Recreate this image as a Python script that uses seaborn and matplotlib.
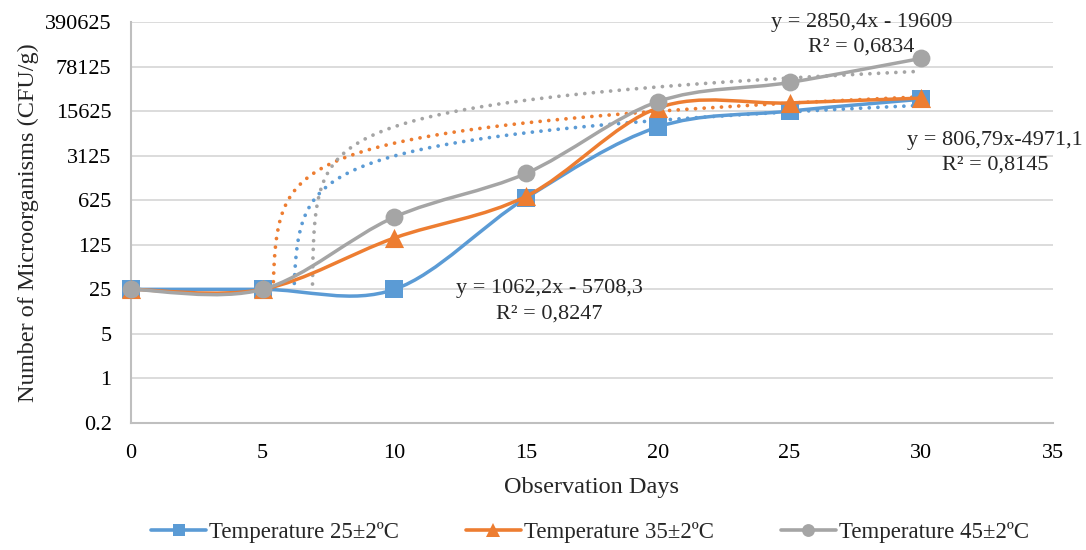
import numpy as np
import pandas as pd
import matplotlib
matplotlib.use("Agg")
import matplotlib.pyplot as plt
from matplotlib.path import Path
from matplotlib.patches import PathPatch
from matplotlib.lines import Line2D
from matplotlib.ticker import NullLocator, FixedLocator, FixedFormatter
import seaborn as sns

# ---------------- data ----------------
days = [0, 5, 10, 15, 20, 25, 30]
temp25 = [25, 25, 25, 680, 8800, 15625, 24000]
temp35 = [25, 25, 160, 720, 17500, 21000, 25000]
temp45 = [25, 25, 340, 1650, 22000, 44000, 105000]
series_names = ["Temperature 25±2ºC", "Temperature 35±2ºC", "Temperature 45±2ºC"]

# linear trendline coefficients (slope, intercept) as labelled in the chart
trend25 = (806.79, -4971.1)
trend35 = (1062.2, -5708.3)
trend45 = (2850.4, -19609)

trend_labels = [
    ("y = 1062,2x - 5708,3", "R² = 0,8247"),
    ("y = 806,79x-4971,1", "R² = 0,8145"),
    ("y = 2850,4x - 19609", "R² = 0,6834"),
]

ytick_values = [0.2, 1, 5, 25, 125, 625, 3125, 15625, 78125, 390625]
ytick_labels = ["0.2", "1", "5", "25", "125", "625", "3125", "15625", "78125", "390625"]
xtick_values = [0, 5, 10, 15, 20, 25, 30, 35]

# ---------------- style ----------------
colors = ["#5B9BD5", "#ED7D31", "#A5A5A5"]
markers = ["s", "^", "o"]
msizes = [150, 190, 165]

sns.set_style("white")
plt.rcParams["font.family"] = ["Liberation Serif", "DejaVu Serif"]

W, H = 1086, 550
fig = plt.figure(figsize=(W / 100, H / 100), dpi=100)
L, R, T, B = 131, 1053, 22, 423
ax = fig.add_axes([L / W, 1 - B / H, (R - L) / W, (B - T) / H])

ax.set_yscale("log", base=5)
ax.set_ylim(0.2, 390625)
ax.set_xlim(0, 35)
ax.yaxis.set_major_locator(FixedLocator(ytick_values))
ax.yaxis.set_major_formatter(FixedFormatter(ytick_labels))
ax.yaxis.set_minor_locator(NullLocator())
ax.set_xticks(xtick_values)
ax.set_xticklabels([str(v) for v in xtick_values])

ax.yaxis.grid(True, color="#D9D9D9", lw=1.3, zorder=0)
ax.xaxis.grid(False)
for s in ["top", "right"]:
    ax.spines[s].set_visible(False)
for s in ["left", "bottom"]:
    ax.spines[s].set_color("#BFBFBF")
    ax.spines[s].set_linewidth(1.5)
ax.tick_params(axis="both", which="major", direction="out", length=5,
               color="#BFBFBF", width=1.3, labelsize=16, labelcolor="black")
ax.tick_params(axis="y", pad=9)
ax.tick_params(axis="x", pad=10)
ax.set_axisbelow(True)

# ---------------- trendlines ----------------
trend_floor = 30
xgrid = np.linspace(0, 30, 6001)
for (a, b), c in zip([trend25, trend35, trend45], colors):
    yv = a * xgrid + b
    keep = yv >= trend_floor
    tdf = pd.DataFrame({"x": xgrid[keep], "y": yv[keep]})
    sns.lineplot(data=tdf, x="x", y="y", ax=ax, color=c, lw=2.7,
                 linestyle=(0, (0.01, 2.3)), dash_capstyle="round",
                 estimator=None, sort=False, zorder=2, legend=False)


# ---------------- smoothed series ----------------
def smooth_path(xs, ys):
    lx = np.asarray(xs, float)
    ly = np.log10(np.asarray(ys, float))
    n = len(lx)
    verts = [(lx[0], ly[0])]
    codes = [Path.MOVETO]
    for i in range(n - 1):
        i0 = i - 1 if i > 0 else i
        i3 = i + 2 if i + 2 < n else i + 1
        c1 = (lx[i] + (lx[i + 1] - lx[i0]) / 6, ly[i] + (ly[i + 1] - ly[i0]) / 6)
        c2 = (lx[i + 1] - (lx[i3] - lx[i]) / 6, ly[i + 1] - (ly[i3] - ly[i]) / 6)
        verts += [c1, c2, (lx[i + 1], ly[i + 1])]
        codes += [Path.CURVE4] * 3
    verts = np.array(verts)
    verts[:, 1] = 10 ** verts[:, 1]
    return Path(verts, codes)


handles = []
for k, (vals, name, c, m, ms) in enumerate(zip([temp25, temp35, temp45], series_names,
                                              colors, markers, msizes)):
    z = 3 + k
    patch = PathPatch(smooth_path(days, vals), facecolor="none", edgecolor=c,
                      lw=2.5, zorder=z, capstyle="round", joinstyle="round")
    ax.add_patch(patch)
    sdf = pd.DataFrame({"day": days, "count": vals})
    sns.scatterplot(data=sdf, x="day", y="count", ax=ax, marker=m, s=ms,
                    color=c, edgecolor=c, linewidth=0, zorder=z + 0.5,
                    legend=False, clip_on=False)
    handles.append(Line2D([0], [0], color=c, lw=2.6, marker=m,
                          markersize=np.sqrt(ms) * 0.72, markeredgewidth=0,
                          label=name))

ax.set_xlabel("Observation Days", fontsize=17.5, labelpad=10)
ax.set_ylabel("Number of Microorganisms (CFU/g)", fontsize=17.5, labelpad=4)

# ---------------- trendline labels ----------------
def ftext(px, py, s):
    fig.text(px / W, 1 - py / H, s, ha="center", va="center", fontsize=16)

ftext(549, 288, trend_labels[0][0])
ftext(549, 314, trend_labels[0][1])
ftext(995, 140, trend_labels[1][0])
ftext(995, 165, trend_labels[1][1])
ftext(862, 22, trend_labels[2][0])
ftext(861, 47, trend_labels[2][1])

# ---------------- legend ----------------
fig.legend(handles=handles, loc="center", bbox_to_anchor=(590 / W, 1 - 532 / H),
           ncol=3, frameon=False, fontsize=16.5, handlelength=2.4,
           handletextpad=0.15, columnspacing=2.9)

fig.savefig("out.png", dpi=100)
